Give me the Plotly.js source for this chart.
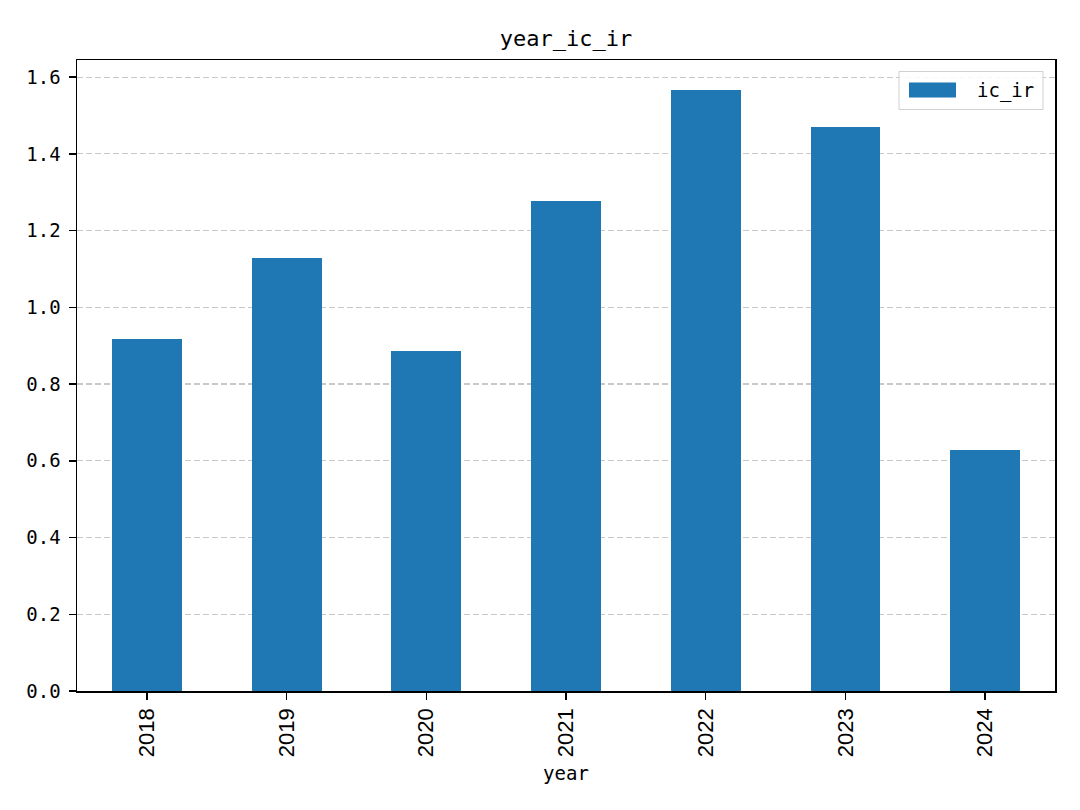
<!DOCTYPE html>
<html>
<head>
<meta charset="utf-8">
<script src="https://cdn.plot.ly/plotly-3.0.1.min.js"></script>
<style>html,body{margin:0;padding:0;background:#fff;}#chart{width:1080px;height:810px;}</style>
</head>
<body>
<div id="chart"></div>
<script>
var years = ["2018", "2019", "2020", "2021", "2022", "2023", "2024"];
var icIr = [0.917, 1.128, 0.886, 1.277, 1.566, 1.470, 0.628];
var yTicks = [0, 0.2, 0.4, 0.6, 0.8, 1.0, 1.2, 1.4, 1.6];
var yTickText = ["0.0", "0.2", "0.4", "0.6", "0.8", "1.0", "1.2", "1.4", "1.6"];
var seriesName = "ic_ir";

var mono = "DejaVu Sans Mono, monospace";
var W = 1080, H = 810;
var L = 77, R = 1055, T = 59.5, B = 691;

var trace = {
  type: "bar",
  x: years,
  y: icIr,
  name: seriesName,
  width: 0.5,
  marker: {color: "#1f77b4", line: {width: 0}},
  showlegend: false
};

var layout = {
  width: W, height: H,
  paper_bgcolor: "#ffffff",
  plot_bgcolor: "#ffffff",
  margin: {l: L, r: W - R, t: T, b: H - B, pad: 0},
  title: {text: "year_ic_ir", font: {family: mono, size: 22, color: "#000"},
          x: 0.5, xanchor: "center", xref: "paper", y: 1 - 38 / H, yanchor: "middle", yref: "container"},
  showlegend: false,
  bargap: 0,
  xaxis: {
    type: "category",
    range: [-0.5, 6.5],
    showline: true, linecolor: "#000", linewidth: 1.5, mirror: true,
    ticks: "outside", ticklen: 7, tickwidth: 1.5, tickcolor: "#000",
    tickangle: -90,
    tickfont: {family: "Liberation Sans Narrow, Liberation Sans, Arial, sans-serif", size: 22, color: "#000"},
    showgrid: false, zeroline: false,
    title: {text: "year", font: {family: mono, size: 19, color: "#000"}, standoff: 10},
    automargin: false
  },
  yaxis: {
    range: [0, 1.6446],
    tickvals: yTicks, ticktext: yTickText,
    showline: true, linecolor: "#000", linewidth: 1.5, mirror: true,
    ticks: "outside", ticklen: 7, tickwidth: 1.5, tickcolor: "#000",
    tickfont: {family: mono, size: 19, color: "#000"},
    ticklabelstandoff: 4,
    showgrid: true, gridcolor: "#c8c8c8", gridwidth: 1.2, griddash: "6px,3px",
    zeroline: false,
    automargin: false
  },
  shapes: [
    {type: "rect", xref: "paper", yref: "paper",
     x0: (899 - L) / (R - L), x1: (1043 - L) / (R - L),
     y0: (B - 109) / (B - T), y1: (B - 71) / (B - T),
     line: {color: "#d0d0d0", width: 1}, fillcolor: "rgba(255,255,255,0.85)", layer: "above"},
    {type: "rect", xref: "paper", yref: "paper",
     x0: (909 - L) / (R - L), x1: (956 - L) / (R - L),
     y0: (B - 97) / (B - T), y1: (B - 82) / (B - T),
     line: {width: 0}, fillcolor: "#1f77b4", layer: "above"}
  ],
  annotations: [
    {text: seriesName, xref: "paper", yref: "paper",
     x: (975 - L) / (R - L), y: (B - 90) / (B - T), xanchor: "left", yanchor: "middle",
     showarrow: false, font: {family: mono, size: 19, color: "#000"}}
  ]
};

Plotly.newPlot("chart", [trace], layout, {displayModeBar: false, staticPlot: true});
</script>
</body>
</html>
